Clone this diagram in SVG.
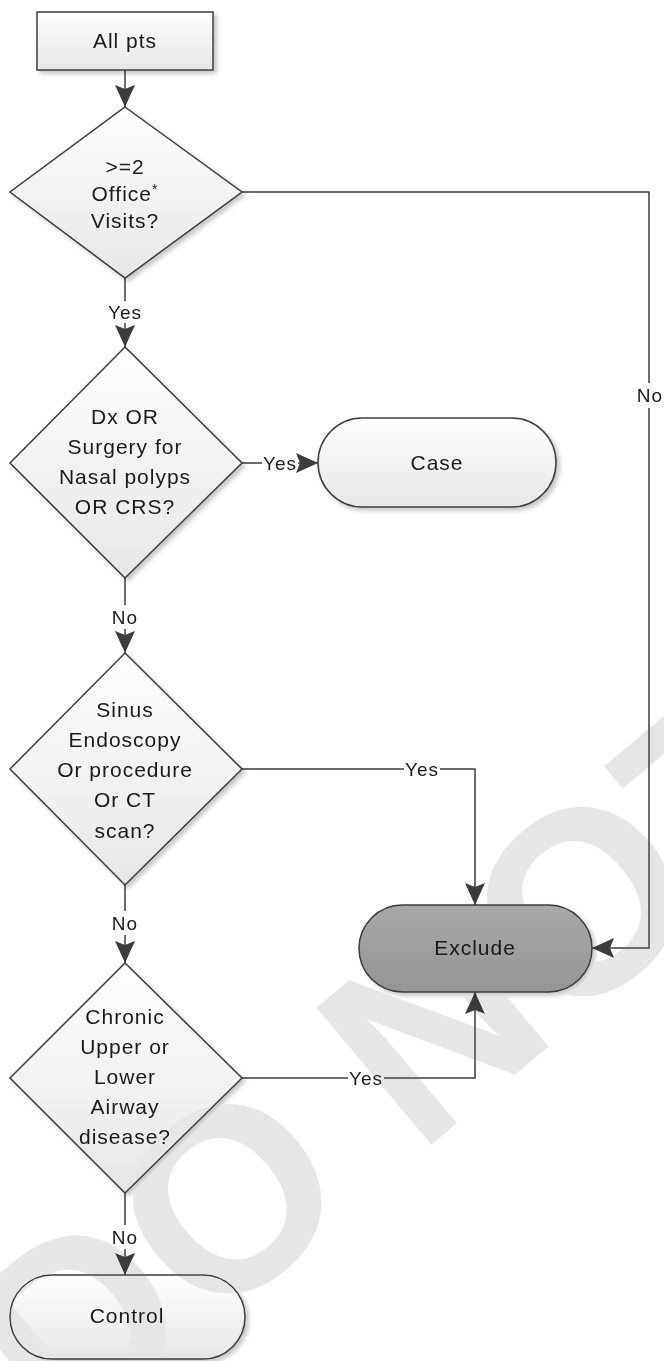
<svg xmlns="http://www.w3.org/2000/svg" width="664" height="1361" viewBox="0 0 664 1361">
<defs>
<linearGradient id="gLight" x1="0" y1="0" x2="0" y2="1">
<stop offset="0" stop-color="#ffffff"/>
<stop offset="1" stop-color="#e6e6e6"/>
</linearGradient>
<linearGradient id="gDark" x1="0" y1="0" x2="0" y2="1">
<stop offset="0" stop-color="#a9a9a9"/>
<stop offset="1" stop-color="#949494"/>
</linearGradient>
<filter id="sh" x="-10%" y="-10%" width="125%" height="125%">
<feDropShadow dx="3" dy="3" stdDeviation="2" flood-color="#000" flood-opacity="0.22"/>
</filter>
<marker id="arr" viewBox="0 0 22 20" refX="22" refY="10" markerWidth="22" markerHeight="20" markerUnits="userSpaceOnUse" orient="auto">
<path d="M0,0 L22,10 L0,20 L4,10 Z" fill="#3c3c3c"/>
</marker>
<style>
.nd{stroke:#3c3c3c;stroke-width:1.5;fill:url(#gLight);filter:url(#sh)}
.dk{fill:url(#gDark)}
.t{font-family:"Liberation Sans",Arial,sans-serif;font-size:21px;letter-spacing:1px;fill:#1a1a1a;text-anchor:middle}
.lb{font-family:"Liberation Sans",Arial,sans-serif;font-size:19px;letter-spacing:1px;fill:#1a1a1a;text-anchor:middle}
.c{fill:none;stroke:#3c3c3c;stroke-width:1.5}
.wm{font-family:"Liberation Sans",Arial,sans-serif;font-size:260px;font-weight:bold;fill:#e6e6e6;mix-blend-mode:darken}
</style>
</defs>
<rect width="664" height="1361" fill="#ffffff"/>

<g id="connectors">
<path class="c" d="M125,70 V107" marker-end="url(#arr)"/>
<path class="c" d="M125,278 V301"/>
<path class="c" d="M125,323 V347" marker-end="url(#arr)"/>
<text class="lb" x="125" y="319">Yes</text>
<path class="c" d="M242,463 H262"/>
<path class="c" d="M298,463 H318" marker-end="url(#arr)"/>
<text class="lb" x="280" y="470">Yes</text>
<path class="c" d="M125,578 V605"/>
<path class="c" d="M125,629 V653" marker-end="url(#arr)"/>
<text class="lb" x="125" y="624">No</text>
<path class="c" d="M242,769 H404"/>
<path class="c" d="M440,769 H475 V905" marker-end="url(#arr)"/>
<text class="lb" x="422" y="776">Yes</text>
<path class="c" d="M125,885 V911"/>
<path class="c" d="M125,935 V963" marker-end="url(#arr)"/>
<text class="lb" x="125" y="930">No</text>
<path class="c" d="M242,1078 H348"/>
<path class="c" d="M384,1078 H475 V992" marker-end="url(#arr)"/>
<text class="lb" x="366" y="1085">Yes</text>
<path class="c" d="M125,1193 V1225"/>
<path class="c" d="M125,1249 V1275" marker-end="url(#arr)"/>
<text class="lb" x="125" y="1244">No</text>
<path class="c" d="M242,192 H649 V383"/>
<path class="c" d="M649,408 V948 H592" marker-end="url(#arr)"/>
<text class="lb" x="650" y="402">No</text>
</g>

<g id="n-allpts">
<rect class="nd" x="37" y="12" width="176" height="58"/>
<text class="t" x="125" y="48">All pts</text>
</g>

<g id="n-visits">
<polygon class="nd" points="125,107 242,192 125,278 10,192"/>
<text class="t" x="125" y="174">&gt;=2</text>
<text class="t" x="125" y="201">Office<tspan font-size="14" dy="-7">*</tspan></text>
<text class="t" x="125" y="228">Visits?</text>
</g>

<g id="n-dx">
<polygon class="nd" points="125,347 242,463 125,578 10,463"/>
<text class="t" x="125" y="424">Dx OR</text>
<text class="t" x="125" y="454">Surgery for</text>
<text class="t" x="125" y="484">Nasal polyps</text>
<text class="t" x="125" y="514">OR CRS?</text>
</g>

<g id="n-case">
<rect class="nd" x="318" y="418" width="238" height="89" rx="44.5" ry="44.5"/>
<text class="t" x="437" y="470">Case</text>
</g>

<g id="n-sinus">
<polygon class="nd" points="125,653 242,769 125,885 10,769"/>
<text class="t" x="125" y="717">Sinus</text>
<text class="t" x="125" y="747">Endoscopy</text>
<text class="t" x="125" y="777">Or procedure</text>
<text class="t" x="125" y="807">Or CT</text>
<text class="t" x="125" y="838">scan?</text>
</g>

<g id="n-exclude">
<rect class="nd dk" x="359" y="905" width="233" height="87" rx="43.5" ry="43.5"/>
<text class="t" x="475" y="955">Exclude</text>
</g>

<g id="n-chronic">
<polygon class="nd" points="125,963 242,1078 125,1193 10,1078"/>
<text class="t" x="125" y="1024">Chronic</text>
<text class="t" x="125" y="1054">Upper or</text>
<text class="t" x="125" y="1084">Lower</text>
<text class="t" x="125" y="1114">Airway</text>
<text class="t" x="125" y="1144">disease?</text>
</g>

<g id="n-control">
<rect class="nd" x="10" y="1275" width="235" height="84" rx="42" ry="42"/>
<text class="t" x="127" y="1323">Control</text>
</g>

<g id="watermark">
<text class="wm" transform="translate(64,1453) rotate(-40)">DO NOT</text>
</g>
</svg>
